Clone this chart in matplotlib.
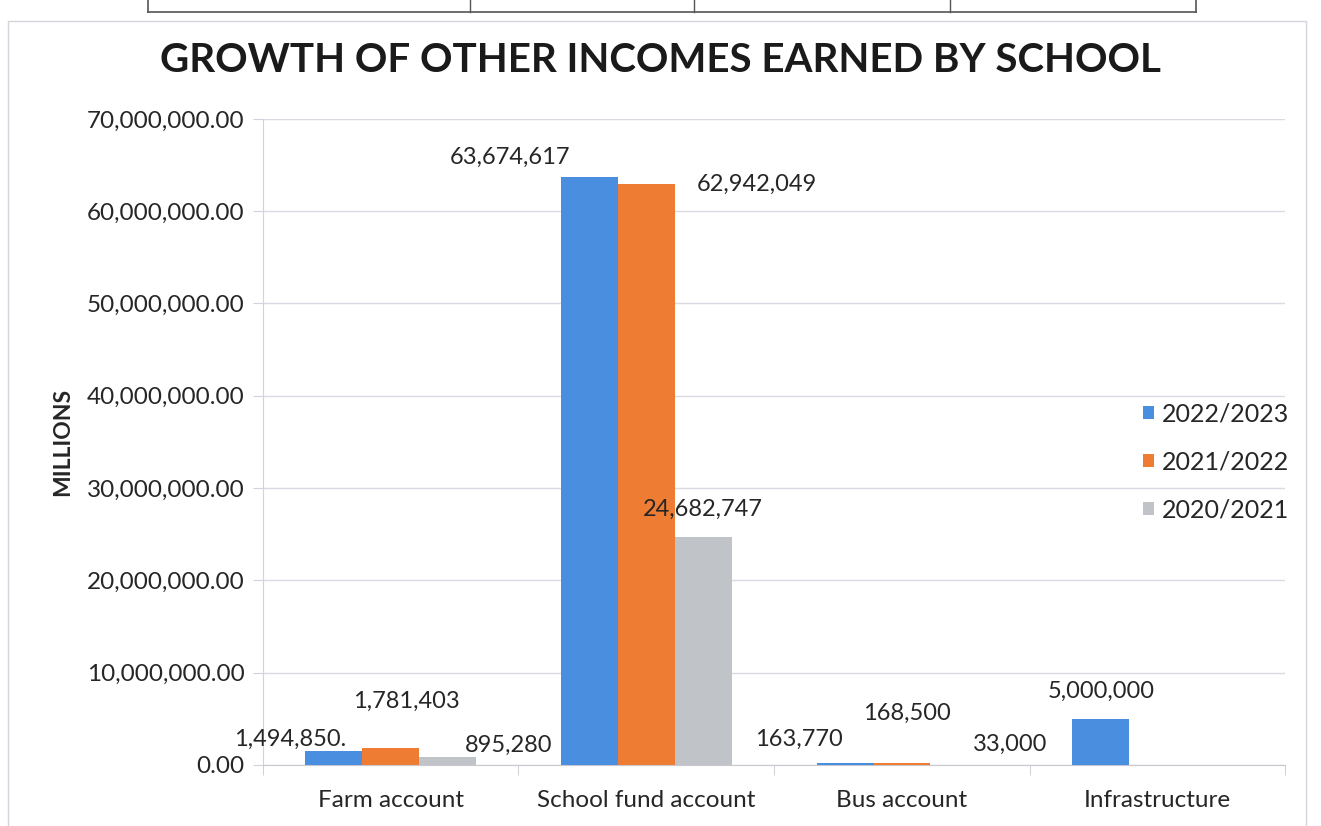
import numpy as np
import matplotlib
matplotlib.use("Agg")
import matplotlib.pyplot as plt
from matplotlib.ticker import FuncFormatter
from matplotlib.patches import Rectangle
from matplotlib.lines import Line2D

categories = ["Farm account", "School fund account", "Bus account", "Infrastructure"]
series_names = ["2022/2023", "2021/2022", "2020/2021"]
v_2022 = [1494850, 63674617, 163770, 5000000]
v_2021 = [1781403, 62942049, 168500, 0]
v_2020 = [895280, 24682747, 33000, 0]
labels_2022 = ["1,494,850.", "63,674,617", "163,770", "5,000,000"]
labels_2021 = ["1,781,403", "62,942,049", "168,500", None]
labels_2020 = ["895,280", "24,682,747", "33,000", None]

colors = ["#4a8ee0", "#ee7d33", "#c0c3c8"]
# label offsets in pixels (labels were dragged by hand in the original)
offsets = [
    [(-44, 12), (-79, 20), (-46, 24), (0, 27)],
    [(16, 47), (111, 0), (5, 50), (0, 0)],
    [(61, 11), (0, 28), (51, 20), (0, 0)],
]

plt.rcParams['font.family'] = ['Lato', 'DejaVu Sans']
txt = "#262626"

fig = plt.figure(figsize=(13.21, 8.26), dpi=100)
ax = fig.add_axes([0.199, 0.074, 0.774, 0.782])

x = np.arange(len(categories))
w = 1 / 4.5
data = [v_2022, v_2021, v_2020]
labs = [labels_2022, labels_2021, labels_2020]
for i, vals in enumerate(data):
    xs = x + (i - 1) * w
    ax.bar(xs, vals, width=w, color=colors[i], label=series_names[i], zorder=3)
    for j, v in enumerate(vals):
        if labs[i][j] is None:
            continue
        ax.annotate(labs[i][j], xy=(xs[j], v), xytext=offsets[i][j],
                    textcoords='offset pixels', ha='center', va='center',
                    fontsize=17, color=txt)

ax.set_xlim(-0.5, len(categories) - 0.5)
ax.set_ylim(0, 70000000)
ax.set_yticks(np.arange(0, 70000001, 10000000))
ax.yaxis.set_major_formatter(FuncFormatter(lambda v, p: f"{v:,.2f}"))
ax.set_xticks(x)
ax.set_xticklabels(categories)
ax.set_xticks(np.arange(-0.5, len(categories)), minor=True)
ax.tick_params(axis='x', which='major', length=0, labelsize=17.5, labelcolor=txt, pad=18)
ax.tick_params(axis='x', which='minor', length=7, color="#c8c8d0")
ax.tick_params(axis='y', length=7, color="#d0d3dc", labelsize=17.5, labelcolor=txt, pad=6)

ax.grid(axis='y', color="#d9dbe3", lw=1, zorder=0)
for s in ['top', 'right']:
    ax.spines[s].set_visible(False)
ax.spines['left'].set_color("#d0d3dc")
ax.spines['bottom'].set_color("#c8c8d0")

ax.set_ylabel("MILLIONS", fontsize=16.5, fontweight='bold', color=txt, labelpad=10)
fig.text(0.5, 0.927, "GROWTH OF OTHER INCOMES EARNED BY SCHOOL", ha='center', va='center',
         fontsize=29, fontweight='bold', color="#1a1a1a")

ax.legend(loc='center left', bbox_to_anchor=(0.839, 0.469), frameon=False, fontsize=18,
          handlelength=0.45, handleheight=0.45, handletextpad=0.3, labelspacing=1.0,
          labelcolor=txt)

# scanned borders: chart frame and the table line above it
fig.add_artist(Rectangle((0.006, -0.01), 0.983, 0.985, transform=fig.transFigure,
                         fill=False, ec="#d4d4dc", lw=1))
fig.add_artist(Line2D([0.112, 0.905], [0.985, 0.985], transform=fig.transFigure, color="#555555", lw=1.2))
fig.add_artist(Line2D([0.112, 0.112], [0.985, 1.0], transform=fig.transFigure, color="#555555", lw=1.2))
fig.add_artist(Line2D([0.905, 0.905], [0.985, 1.0], transform=fig.transFigure, color="#555555", lw=1.2))
for xv in [0.356, 0.525, 0.719]:
    fig.add_artist(Line2D([xv, xv], [0.985, 1.0], transform=fig.transFigure, color="#555555", lw=1))

fig.savefig("out.png", dpi=100)
